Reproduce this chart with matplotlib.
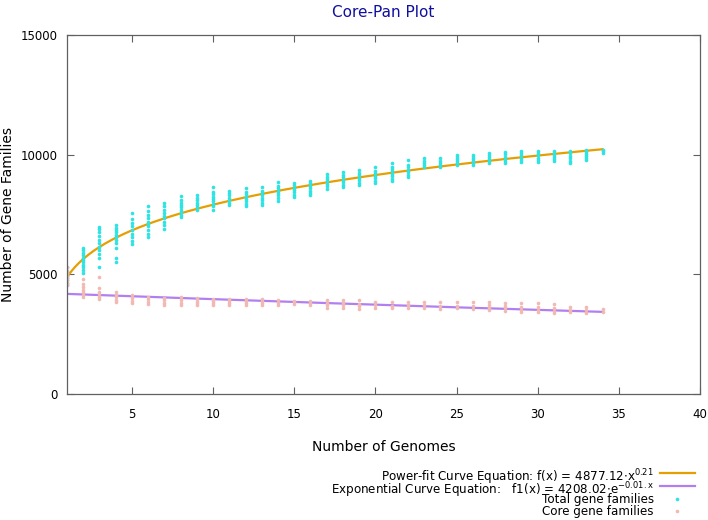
import numpy as np
import matplotlib
matplotlib.use('Agg')
import matplotlib.pyplot as plt
from matplotlib.lines import Line2D

# genome counts 1..34 and sampled family counts at each
genomes = list(range(1, 35))

total_families = [
    [4550, 4650, 4750, 4850, 4950, 5050, 5150, 5300],
    [5060, 5200, 5300, 5400, 5500, 5600, 5700, 5800, 5900, 6000, 6100],
    [5300, 5700, 5850, 6000, 6150, 6300, 6450, 6600, 6750, 6900, 6980],
    [5500, 5700, 6100, 6300, 6450, 6550, 6650, 6750, 6850, 6950, 7060],
    [6270, 6400, 6550, 6700, 6850, 7000, 7150, 7300, 7560],
    [6560, 6700, 6850, 7000, 7100, 7200, 7350, 7500, 7650, 7860],
    [6900, 7050, 7200, 7350, 7450, 7550, 7700, 7850, 7980],
    [7400, 7500, 7600, 7700, 7800, 7900, 8000, 8100, 8270],
    [7700, 7800, 7900, 8000, 8100, 8200, 8300],
    [7700, 7850, 7950, 8050, 8150, 8250, 8350, 8450, 8650],
    [7900, 8000, 8100, 8200, 8300, 8400, 8500],
    [7850, 7950, 8050, 8150, 8250, 8350, 8450, 8600],
    [7880, 8000, 8100, 8200, 8300, 8400, 8500, 8650],
    [8080, 8200, 8300, 8400, 8500, 8600, 8700, 8860],
    [8230, 8320, 8420, 8520, 8620, 8720, 8800],
    [8300, 8400, 8500, 8600, 8700, 8800, 8900],
    [8570, 8680, 8780, 8880, 8980, 9080, 9190],
    [8650, 8750, 8850, 8950, 9050, 9150, 9280],
    [8730, 8830, 8930, 9030, 9130, 9230, 9360],
    [8820, 8920, 9020, 9120, 9220, 9320, 9490],
    [8900, 9000, 9100, 9200, 9300, 9400, 9500, 9650],
    [9070, 9170, 9270, 9370, 9470, 9570, 9780],
    [9490, 9570, 9650, 9730, 9860],
    [9490, 9570, 9650, 9730, 9860],
    [9570, 9650, 9730, 9810, 9900, 9990],
    [9570, 9650, 9730, 9810, 9900, 9990],
    [9650, 9730, 9810, 9890, 9970, 10070],
    [9650, 9740, 9830, 9920, 10010, 10100],
    [9700, 9790, 9880, 9970, 10060, 10150],
    [9700, 9790, 9880, 9970, 10060, 10150],
    [9740, 9820, 9900, 9980, 10070, 10150],
    [9650, 9750, 9850, 9950, 10050, 10150],
    [9780, 9860, 9940, 10020, 10100, 10200],
    [10070, 10150, 10200],
]

core_families = [
    [4550, 4650, 4750, 4850, 4950, 5050, 5150, 5300],
    [4050, 4150, 4250, 4350, 4450, 4600, 4800],
    [3970, 4070, 4170, 4270, 4430, 4900],
    [3840, 3940, 4040, 4140, 4260],
    [3800, 3900, 4000, 4140],
    [3760, 3860, 3960, 4050],
    [3730, 3820, 3910, 4000],
    [3730, 3820, 3910, 4050],
    [3720, 3810, 3900, 4000],
    [3720, 3810, 3900, 3970],
    [3700, 3790, 3880, 3970],
    [3720, 3810, 3900, 3970],
    [3700, 3790, 3880, 3970],
    [3730, 3820, 3910],
    [3750, 3830, 3900],
    [3700, 3790, 3880],
    [3600, 3700, 3800, 3930],
    [3600, 3700, 3800, 3930],
    [3570, 3670, 3770, 3930],
    [3600, 3700, 3840],
    [3580, 3680, 3840],
    [3600, 3700, 3840],
    [3600, 3700, 3840],
    [3560, 3660, 3840],
    [3580, 3680, 3840],
    [3560, 3660, 3840],
    [3500, 3600, 3700, 3840],
    [3480, 3580, 3680, 3800],
    [3430, 3530, 3630, 3800],
    [3430, 3530, 3630, 3800],
    [3380, 3480, 3580, 3760],
    [3430, 3530, 3630],
    [3400, 3500, 3630],
    [3430, 3550],
]

# fitted curves
pan_a, pan_b = 4877.12, 0.21
core_a, core_b = 4208.02, -0.006   # printed rounded as -0.01

pan_color = '#e69f00'
core_fit_color = '#b27ff0'
total_color = '#2de3e3'
core_color = '#f2b9b2'

fig = plt.figure(figsize=(7.08, 5.20), dpi=100)
ax = fig.add_axes([67/708, 1-394/520, 633/708, 359/520])

xs = np.linspace(1, 34, 200)
ax.plot(xs, pan_a * xs**pan_b, color=pan_color, lw=1.6)
ax.plot(xs, core_a * np.exp(core_b * xs), color=core_fit_color, lw=1.6)

tx = [g for g, vals in zip(genomes, total_families) for v in vals]
ty = [v for vals in total_families for v in vals]
cx = [g for g, vals in zip(genomes, core_families) for v in vals]
cy = [v for vals in core_families for v in vals]
ax.plot(tx, ty, 'o', color=total_color, ms=2.6, mew=0)
ax.plot(cx, cy, 'o', color=core_color, ms=2.6, mew=0)

ax.set_xlim(1, 40)
ax.set_ylim(0, 15000)
ax.set_xticks(range(5, 41, 5))
ax.set_yticks([0, 5000, 10000, 15000])
ax.tick_params(direction='in', top=True, right=True, length=5, width=0.8,
               labelsize=8.5, colors='#606060', labelcolor='black')
ax.tick_params(axis='x', pad=10)
ax.tick_params(axis='y', pad=7)
for s in ax.spines.values():
    s.set_color('#606060')
    s.set_linewidth(0.9)

ax.set_title('Core-Pan Plot', color='#1010a0', fontsize=11, pad=13)
ax.set_xlabel('Number of Genomes', fontsize=10, labelpad=14)
ax.set_ylabel('Number of Gene Families', fontsize=10)
ax.yaxis.set_label_coords(-0.082, 0.5)

# gnuplot-style key, right aligned under the plot
key = [
    (r'Power-fit Curve Equation: f(x) = 4877.12$\cdot$x$^{\mathrm{0.21}}$', 477, 473, 'line', pan_color),
    (r'Exponential Curve Equation:   f1(x) = 4208.02$\cdot$e$^{\mathrm{-0.01.x}}$', 490, 486, 'line', core_fit_color),
    ('Total gene families', 500, 499, 'dot', total_color),
    ('Core gene families', 512, 511, 'dot', core_color),
]
for label, ty_px, sy_px, kind, col in key:
    fig.text(654/708, 1 - ty_px/520, label, ha='right', va='center', fontsize=8.6)
    yy = 1 - sy_px/520
    if kind == 'line':
        fig.add_artist(Line2D([660/708, 695/708], [yy, yy], color=col, lw=1.6,
                              transform=fig.transFigure))
    else:
        fig.add_artist(Line2D([677/708], [yy], marker='o', ms=2.6, mew=0, color=col,
                              ls='none', transform=fig.transFigure))

fig.savefig('out.png', dpi=100)
